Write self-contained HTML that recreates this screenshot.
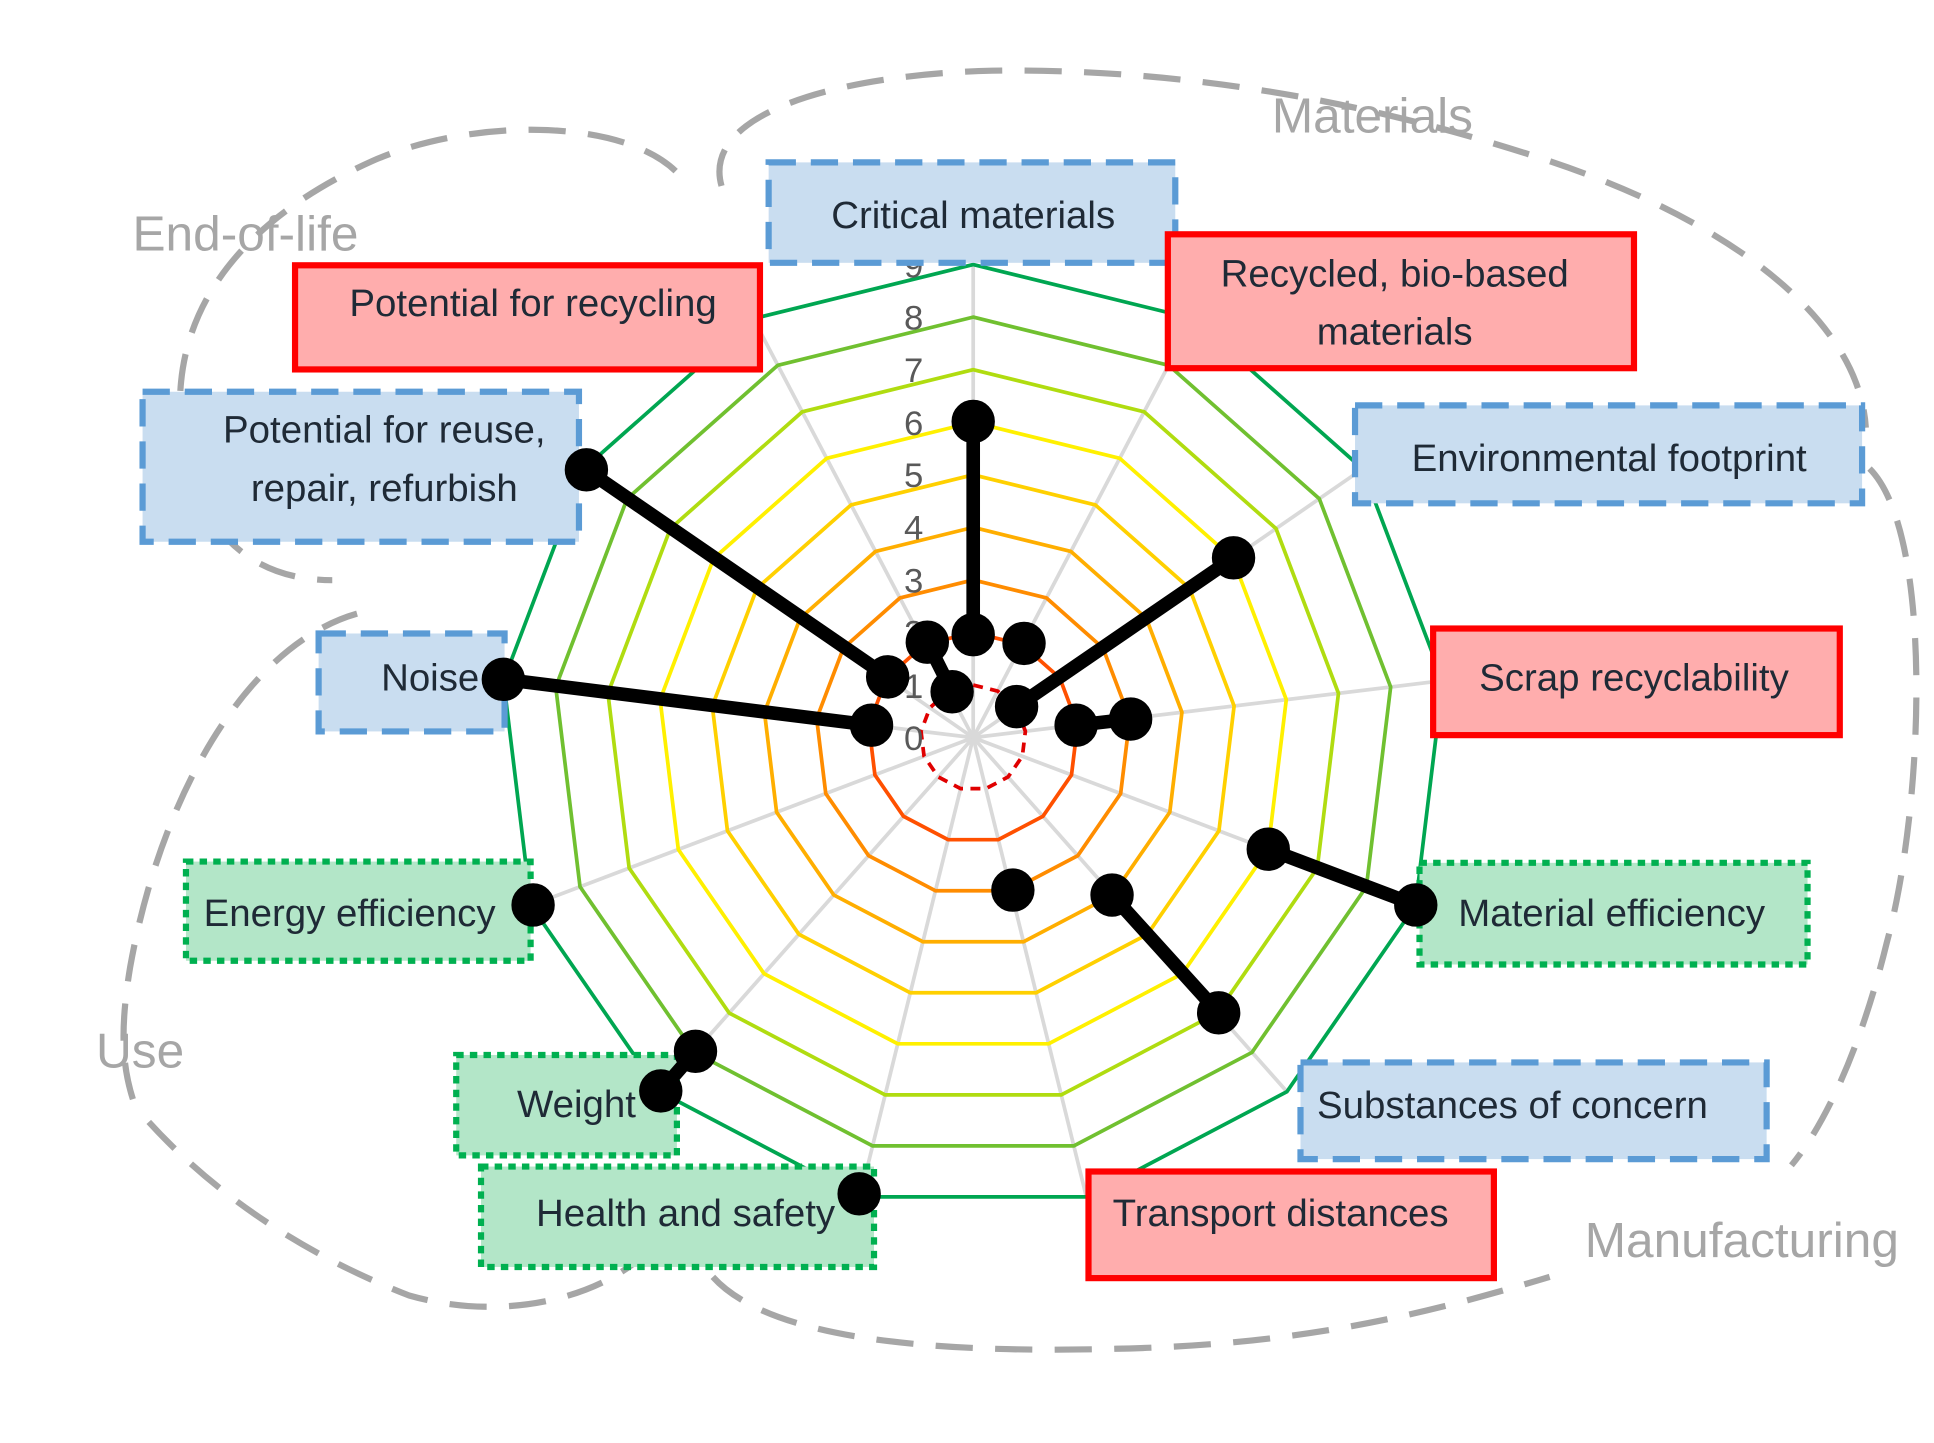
<!DOCTYPE html>
<html><head><meta charset="utf-8"><style>
html,body{margin:0;padding:0;background:#fff;}
svg{display:block;}
text{font-family:"Liberation Sans",sans-serif;}
</style></head><body>
<svg width="1934" height="1443" viewBox="0 0 1560 1164" preserveAspectRatio="none" xmlns="http://www.w3.org/2000/svg">
<!-- dashed blobs -->
<g fill="none" stroke="#a6a6a6" stroke-width="5" stroke-dasharray="30 18">
<path d="M545,138 C500,95 380,95 300,130 C200,175 130,250 148,360 C160,425 200,468 268,468"/>
<path d="M582,150 C565,90 680,60 800,57 C950,55 1100,80 1250,130 C1400,180 1500,260 1505,345"/>
<path d="M1508,378 C1560,430 1552,650 1522,760 C1500,850 1470,910 1445,940"/>
<path d="M575,1030 C620,1080 750,1092 900,1088 C1050,1085 1150,1060 1250,1030"/>
<path d="M288,495 C200,520 130,640 105,780 C95,840 100,870 112,900"/>
<path d="M120,905 C170,960 240,1010 330,1045 C400,1065 470,1050 510,1020"/>
</g>
<g fill="#a6a6a6" font-size="40">
<text x="1107" y="107" text-anchor="middle">Materials</text>
<text x="198" y="202" text-anchor="middle">End-of-life</text>
<text x="113" y="861" text-anchor="middle">Use</text>
<text x="1405" y="1014" text-anchor="middle">Manufacturing</text>
</g>
<!-- axes -->
<g stroke="#d9d9d9" stroke-width="3">
<line x1="785" y1="595" x2="785" y2="213"/>
<line x1="785" y1="595" x2="962.5" y2="256.7"/>
<line x1="785" y1="595" x2="1099.4" y2="378"/>
<line x1="785" y1="595" x2="1164.2" y2="549"/>
<line x1="785" y1="595" x2="1142.2" y2="730.5"/>
<line x1="785" y1="595" x2="1038.3" y2="880.9"/>
<line x1="785" y1="595" x2="876.4" y2="965.9"/>
<line x1="785" y1="595" x2="693.6" y2="965.9"/>
<line x1="785" y1="595" x2="531.7" y2="880.9"/>
<line x1="785" y1="595" x2="427.8" y2="730.5"/>
<line x1="785" y1="595" x2="405.8" y2="549"/>
<line x1="785" y1="595" x2="470.6" y2="378"/>
<line x1="785" y1="595" x2="607.5" y2="256.7"/>
</g>
<!-- rings -->
<g fill="none">
<polygon fill="none" points="0,-1 .4647,-.8855 .8230,-.5681 .9927,-.1205 .9350,.3546 .6631,.7485 .2393,.9709 -.2393,.9709 -.6631,.7485 -.9350,.3546 -.9927,-.1205 -.8230,-.5681 -.4647,-.8855" transform="translate(785 595) scale(42.4)" stroke="#e00000" stroke-width="0.0708" stroke-dasharray="0.189 0.1415"/>
<polygon fill="none" points="0,-1 .4647,-.8855 .8230,-.5681 .9927,-.1205 .9350,.3546 .6631,.7485 .2393,.9709 -.2393,.9709 -.6631,.7485 -.9350,.3546 -.9927,-.1205 -.8230,-.5681 -.4647,-.8855" transform="translate(785 595) scale(84.8)" stroke="#ff5000" stroke-width="0.0354"/>
<polygon fill="none" points="0,-1 .4647,-.8855 .8230,-.5681 .9927,-.1205 .9350,.3546 .6631,.7485 .2393,.9709 -.2393,.9709 -.6631,.7485 -.9350,.3546 -.9927,-.1205 -.8230,-.5681 -.4647,-.8855" transform="translate(785 595) scale(127.2)" stroke="#ff8c00" stroke-width="0.0236"/>
<polygon fill="none" points="0,-1 .4647,-.8855 .8230,-.5681 .9927,-.1205 .9350,.3546 .6631,.7485 .2393,.9709 -.2393,.9709 -.6631,.7485 -.9350,.3546 -.9927,-.1205 -.8230,-.5681 -.4647,-.8855" transform="translate(785 595) scale(169.6)" stroke="#ffae00" stroke-width="0.0177"/>
<polygon fill="none" points="0,-1 .4647,-.8855 .8230,-.5681 .9927,-.1205 .9350,.3546 .6631,.7485 .2393,.9709 -.2393,.9709 -.6631,.7485 -.9350,.3546 -.9927,-.1205 -.8230,-.5681 -.4647,-.8855" transform="translate(785 595) scale(212)" stroke="#ffd000" stroke-width="0.01415"/>
<polygon fill="none" points="0,-1 .4647,-.8855 .8230,-.5681 .9927,-.1205 .9350,.3546 .6631,.7485 .2393,.9709 -.2393,.9709 -.6631,.7485 -.9350,.3546 -.9927,-.1205 -.8230,-.5681 -.4647,-.8855" transform="translate(785 595) scale(254.4)" stroke="#fff000" stroke-width="0.0118"/>
<polygon fill="none" points="0,-1 .4647,-.8855 .8230,-.5681 .9927,-.1205 .9350,.3546 .6631,.7485 .2393,.9709 -.2393,.9709 -.6631,.7485 -.9350,.3546 -.9927,-.1205 -.8230,-.5681 -.4647,-.8855" transform="translate(785 595) scale(296.8)" stroke="#b0dc10" stroke-width="0.0101"/>
<polygon fill="none" points="0,-1 .4647,-.8855 .8230,-.5681 .9927,-.1205 .9350,.3546 .6631,.7485 .2393,.9709 -.2393,.9709 -.6631,.7485 -.9350,.3546 -.9927,-.1205 -.8230,-.5681 -.4647,-.8855" transform="translate(785 595) scale(339.2)" stroke="#70c030" stroke-width="0.00884"/>
<polygon fill="none" points="0,-1 .4647,-.8855 .8230,-.5681 .9927,-.1205 .9350,.3546 .6631,.7485 .2393,.9709 -.2393,.9709 -.6631,.7485 -.9350,.3546 -.9927,-.1205 -.8230,-.5681 -.4647,-.8855" transform="translate(785 595) scale(381.6)" stroke="#00a651" stroke-width="0.00786"/>
</g>
<g fill="#595959" font-size="28" text-anchor="middle">
<text x="737" y="605">0</text><text x="737" y="563">1</text><text x="737" y="520">2</text><text x="737" y="478">3</text><text x="737" y="435">4</text><text x="737" y="393">5</text><text x="737" y="351">6</text><text x="737" y="308">7</text><text x="737" y="266">8</text><text x="737" y="224">9</text>
</g>
<!-- labels boxes -->
<g stroke-width="5">
<rect x="620" y="131" width="328" height="81" fill="#c9ddf0" stroke="#5b9bd5" stroke-dasharray="22 12"/>
<rect x="1093" y="327" width="409" height="79" fill="#c9ddf0" stroke="#5b9bd5" stroke-dasharray="22 12"/>
<rect x="1049" y="857" width="376" height="78" fill="#c9ddf0" stroke="#5b9bd5" stroke-dasharray="22 12"/>
<rect x="257" y="511" width="150" height="79" fill="#c9ddf0" stroke="#5b9bd5" stroke-dasharray="22 12"/>
<rect x="115" y="316" width="352" height="121" fill="#c9ddf0" stroke="#5b9bd5" stroke-dasharray="22 12"/>
<rect x="942" y="189" width="376" height="108" fill="#ffadad" stroke="#ff0000"/>
<rect x="1156" y="507" width="328" height="86" fill="#ffadad" stroke="#ff0000"/>
<rect x="878" y="945" width="327" height="86" fill="#ffadad" stroke="#ff0000"/>
<rect x="238" y="214" width="375" height="84" fill="#ffadad" stroke="#ff0000"/>
<rect x="1145" y="696" width="313" height="82" fill="#b3e6c8" stroke="#00b050" stroke-dasharray="6 5"/>
<rect x="388" y="941" width="317" height="81" fill="#b3e6c8" stroke="#00b050" stroke-dasharray="6 5"/>
<rect x="368" y="851" width="178" height="81" fill="#b3e6c8" stroke="#00b050" stroke-dasharray="6 5"/>
<rect x="150" y="695" width="278" height="80" fill="#b3e6c8" stroke="#00b050" stroke-dasharray="6 5"/>
</g>
<!-- data -->
<g stroke="#000" stroke-width="11" stroke-linecap="round" fill="#000">
<line x1="785" y1="340" x2="785" y2="512"/><circle cx="785" cy="340" r="12"/><circle cx="785" cy="512" r="12"/>
<circle cx="826" cy="519" r="12"/>
<line x1="995" y1="450" x2="820" y2="570"/><circle cx="995" cy="450" r="12"/><circle cx="820" cy="570" r="12"/>
<line x1="868" y1="585" x2="912" y2="580"/><circle cx="868" cy="585" r="12"/><circle cx="912" cy="580" r="12"/>
<line x1="1023" y1="685" x2="1142" y2="730"/><circle cx="1023" cy="685" r="12"/><circle cx="1142" cy="730" r="12"/>
<line x1="897" y1="722" x2="983" y2="817"/><circle cx="897" cy="722" r="12"/><circle cx="983" cy="817" r="12"/>
<circle cx="817" cy="718" r="12"/>
<circle cx="693" cy="963" r="12"/>
<line x1="561" y1="848" x2="533" y2="880"/><circle cx="561" cy="848" r="12"/><circle cx="533" cy="880" r="12"/>
<circle cx="430" cy="730" r="12"/>
<line x1="703" y1="585" x2="406" y2="548"/><circle cx="703" cy="585" r="12"/><circle cx="406" cy="548" r="12"/>
<line x1="716" y1="546" x2="473" y2="379"/><circle cx="716" cy="546" r="12"/><circle cx="473" cy="379" r="12"/>
<line x1="748" y1="518" x2="768" y2="558"/><circle cx="748" cy="518" r="12"/><circle cx="768" cy="558" r="12"/>
</g>
<g fill="#1f2a36" font-size="31" text-anchor="middle">
<text x="785" y="184">Critical materials</text>
<text x="1125" y="231">Recycled, bio-based</text>
<text x="1125" y="278">materials</text>
<text x="1298" y="380">Environmental footprint</text>
<text x="1318" y="557">Scrap recyclability</text>
<text x="1300" y="747">Material efficiency</text>
<text x="1220" y="902">Substances of concern</text>
<text x="1033" y="989">Transport distances</text>
<text x="553" y="989">Health and safety</text>
<text x="465" y="901">Weight</text>
<text x="282" y="747">Energy efficiency</text>
<text x="347" y="557">Noise</text>
<text x="310" y="357">Potential for reuse,</text>
<text x="310" y="404">repair, refurbish</text>
<text x="430" y="255">Potential for recycling</text>
</g>
</svg>
</body></html>
